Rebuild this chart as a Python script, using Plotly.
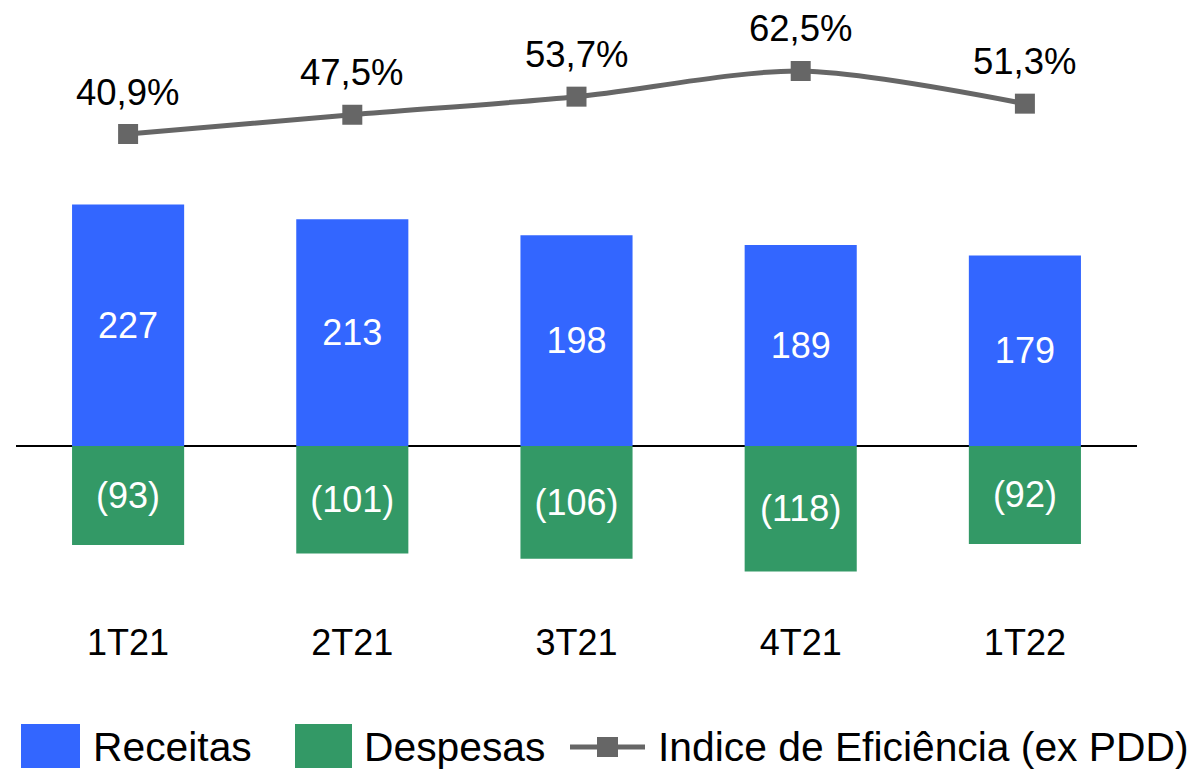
import plotly.graph_objects as go

categories = ["1T21", "2T21", "3T21", "4T21", "1T22"]
receitas = [227, 213, 198, 189, 179]
despesas = [-93, -101, -106, -118, -92]
despesas_labels = ["(93)", "(101)", "(106)", "(118)", "(92)"]
eficiencia = [40.9, 47.5, 53.7, 62.5, 51.3]
eficiencia_labels = ["40,9%", "47,5%", "53,7%", "62,5%", "51,3%"]

BLUE = "#3366FF"
GREEN = "#339966"
GRAY = "#666666"
FONT = "Liberation Sans, Arial, sans-serif"

# page offset of the plotly div (body margin)
OFF = 8
W, H = 1199 - OFF, 770 - OFF
# plot area in page pixels
P_LEFT, P_RIGHT, P_TOP, P_BOTTOM = 16, 1137, 10, 612
L, R = P_LEFT - OFF, W - (P_RIGHT - OFF)
T, B = P_TOP - OFF, H - (P_BOTTOM - OFF)
PW, PH = P_RIGHT - P_LEFT, P_BOTTOM - P_TOP


def px(x):
    return (x - P_LEFT) / PW


def py(y):
    return (P_BOTTOM - y) / PH


ZERO_Y, SCALE1 = 446, 1.064
REF2_Y, SCALE2 = 134, 2.917

fig = go.Figure()
fig.add_trace(go.Bar(
    x=categories, y=receitas, name="Receitas", marker_color=BLUE,
    marker_line_width=0, width=0.5,
    text=[str(v) for v in receitas], textposition="inside",
    insidetextanchor="middle", textangle=0,
    textfont=dict(color="white", size=36, family=FONT),
    showlegend=False,
))
fig.add_trace(go.Bar(
    x=categories, y=despesas, name="Despesas", marker_color=GREEN,
    marker_line_width=0, width=0.5,
    text=despesas_labels, textposition="inside",
    insidetextanchor="middle", textangle=0,
    textfont=dict(color="white", size=36, family=FONT),
    showlegend=False,
))
fig.add_trace(go.Scatter(
    x=categories, y=eficiencia, name="Indice de Eficiência (ex PDD)",
    yaxis="y2", mode="lines+markers",
    line=dict(color=GRAY, width=5, shape="spline", smoothing=0.8),
    marker=dict(symbol="square", size=20, color=GRAY),
    cliponaxis=False, showlegend=False,
))

annotations = []
for c, v, t in zip(categories, eficiencia, eficiencia_labels):
    annotations.append(dict(
        x=c, y=v, xref="x", yref="y2", text=t, showarrow=False,
        xanchor="center", yanchor="middle", yshift=42,
        font=dict(size=36.5, color="black", family=FONT),
    ))

# custom legend
shapes = [
    dict(type="rect", xref="paper", yref="paper", x0=px(21), x1=px(80),
         y0=py(768), y1=py(724), fillcolor=BLUE, line_width=0),
    dict(type="rect", xref="paper", yref="paper", x0=px(295), x1=px(352),
         y0=py(768), y1=py(724), fillcolor=GREEN, line_width=0),
    dict(type="line", xref="paper", yref="paper", x0=px(570), x1=px(645),
         y0=py(747), y1=py(747), line=dict(color=GRAY, width=5)),
    dict(type="rect", xref="paper", yref="paper", x0=px(597), x1=px(618),
         y0=py(757), y1=py(737), fillcolor=GRAY, line_width=0),
]
for text, x in [("Receitas", 91), ("Despesas", 362),
                ("Indice de Eficiência (ex PDD)", 656)]:
    annotations.append(dict(
        text=text, x=px(x), y=py(747), xref="paper", yref="paper",
        xanchor="left", yanchor="middle", showarrow=False,
        font=dict(size=40.8, color="black", family=FONT),
    ))

fig.update_layout(
    width=W, height=H,
    margin=dict(l=L, r=R, t=T, b=B),
    paper_bgcolor="white", plot_bgcolor="white",
    barmode="relative",
    font=dict(family=FONT, color="black"),
    showlegend=False,
    shapes=shapes, annotations=annotations,
    xaxis=dict(
        type="category", range=[-0.5, 4.5], showgrid=False, showline=False,
        ticks="", ticklabelstandoff=6,
        tickfont=dict(size=36, color="black", family=FONT),
    ),
    yaxis=dict(
        range=[-(P_BOTTOM - ZERO_Y) / SCALE1, (ZERO_Y - P_TOP) / SCALE1],
        showgrid=False, showticklabels=False, zeroline=True,
        zerolinecolor="black", zerolinewidth=1.5, showline=False,
    ),
    yaxis2=dict(
        overlaying="y", side="right",
        range=[40.9 - (P_BOTTOM - REF2_Y) / SCALE2,
               40.9 + (REF2_Y - P_TOP) / SCALE2],
        showgrid=False, showticklabels=False, zeroline=False, showline=False,
    ),
)

fig.write_html("out.html")
